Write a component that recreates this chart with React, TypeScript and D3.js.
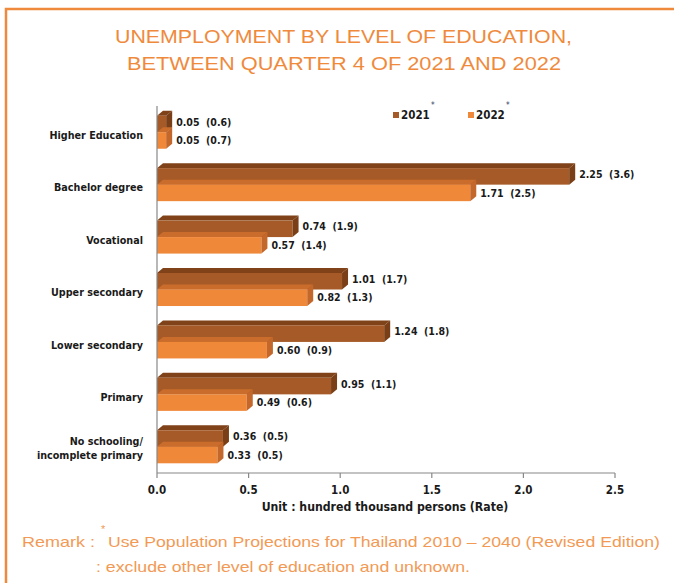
import React from "react";
import * as d3 from "d3";

const categories = [
  "Higher Education",
  "Bachelor degree",
  "Vocational",
  "Upper secondary",
  "Lower secondary",
  "Primary",
  "No schooling/\nincomplete primary",
];
const values2021 = [0.05, 2.25, 0.74, 1.01, 1.24, 0.95, 0.36];
const rates2021 = [0.6, 3.6, 1.9, 1.7, 1.8, 1.1, 0.5];
const values2022 = [0.05, 1.71, 0.57, 0.82, 0.6, 0.49, 0.33];
const rates2022 = [0.7, 2.5, 1.4, 1.3, 0.9, 0.6, 0.5];
const seriesNames = ["2021", "2022"];
const xTicks = [0, 0.5, 1.0, 1.5, 2.0, 2.5];

const W = 674;
const H = 583;
const orange = "#EF8A3D";
const remarkColor = "#F29A55";
const chartFont = "'DejaVu Sans Condensed', 'DejaVu Sans', sans-serif";
const titleFont = "'Liberation Sans', Arial, sans-serif";

const colors = {
  "2021": { front: "#A65A27", top: "#7F4219", side: "#7A3F16" },
  "2022": { front: "#F0883A", top: "#C96C2C", side: "#C4672A" },
};

export default function App() {
  const x = d3.scaleLinear().domain([0, 2.5]).range([157, 615]);
  const y = d3
    .scaleBand<string>()
    .domain(categories)
    .range([106, 473])
    .paddingInner(0.37)
    .paddingOuter(0.185);
  const ys = d3.scaleBand<string>().domain(seriesNames).range([0, y.bandwidth()]);
  const dx = 6;
  const dy = 5;

  const seriesData = [
    { name: "2021", values: values2021, rates: rates2021 },
    { name: "2022", values: values2022, rates: rates2022 },
  ];

  const bars: React.ReactNode[] = [];
  const labels: React.ReactNode[] = [];
  categories.forEach((cat, i) => {
    seriesData.forEach((s) => {
      const c = colors[s.name as "2021" | "2022"];
      const x0 = x(0);
      const x1 = x(s.values[i]);
      const y0 = (y(cat) as number) + (ys(s.name) as number);
      const h = ys.bandwidth();
      const top = `M${x0},${y0} L${x0 + dx},${y0 - dy} L${x1 + dx},${y0 - dy} L${x1},${y0} Z`;
      const side = `M${x1},${y0} L${x1 + dx},${y0 - dy} L${x1 + dx},${y0 + h - dy} L${x1},${y0 + h} Z`;
      bars.push(
        <g key={`${cat}-${s.name}`}>
          <path d={top} fill={c.top} />
          <rect x={x0} y={y0} width={x1 - x0} height={h} fill={c.front} />
          <path d={side} fill={c.side} />
        </g>
      );
      labels.push(
        <text
          key={`l-${cat}-${s.name}`}
          x={x1 + dx + 4}
          y={y0 + h / 2 - (s.name === "2021" ? 2 : 0)}
          dy="0.35em"
          fontSize={10.5}
          fontWeight="bold"
          fill="#1a1a1a"
          fontFamily={chartFont}
          style={{ whiteSpace: "pre" }}
        >
          {`${s.values[i].toFixed(2)}  (${s.rates[i].toFixed(1)})`}
        </text>
      );
    });
  });

  return (
    <svg
      width={W}
      height={H}
      style={{ position: "absolute", left: 0, top: 0, background: "#fff" }}
    >
      <rect x={6} y={9} width={W + 20} height={H + 20} fill="none" stroke={orange} strokeWidth={2.5} />

      <text x={115} y={43} textLength={457} lengthAdjust="spacingAndGlyphs" fontSize={18.5} fill={orange} fontFamily={titleFont}>
        UNEMPLOYMENT BY LEVEL OF EDUCATION,
      </text>
      <text x={127} y={70} textLength={434} lengthAdjust="spacingAndGlyphs" fontSize={18.5} fill={orange} fontFamily={titleFont}>
        BETWEEN QUARTER 4 OF 2021 AND 2022
      </text>

      {/* legend */}
      {seriesNames.map((n, i) => {
        const lx = 393 + i * 75;
        return (
          <g key={n}>
            <rect x={lx} y={112} width={6} height={6} fill={colors[n as "2021" | "2022"].front} />
            <text x={lx + 8} y={119} fontSize={11.5} fontWeight="bold" fill="#1a1a1a" fontFamily={chartFont}>
              {n}
            </text>
            <text x={lx + 38} y={108} fontSize={8} fill="#2c3e5c" fontFamily={chartFont}>
              *
            </text>
          </g>
        );
      })}

      {/* category labels */}
      {categories.map((cat) => {
        const cy = (y(cat) as number) + y.bandwidth() / 2;
        const lines = cat.split("\n");
        return (
          <text
            key={cat}
            x={143}
            y={cy + 3 - ((lines.length - 1) * 14) / 2 - (lines.length - 1) * 2}
            textAnchor="end"
            fontSize={10.7}
            fontWeight="bold"
            fill="#1a1a1a"
            fontFamily={chartFont}
          >
            {lines.map((ln, k) => (
              <tspan key={k} x={143} dy={k === 0 ? "0.35em" : 14.5}>
                {ln}
              </tspan>
            ))}
          </text>
        );
      })}

      {bars}
      {labels}

      {/* axes */}
      <line x1={x(0)} x2={x(0)} y1={106} y2={473} stroke="#888" strokeWidth={1.2} />
      <line x1={x(0)} x2={x(2.5)} y1={473} y2={473} stroke="#888" strokeWidth={1.2} />
      {xTicks.map((t) => (
        <g key={t}>
          <line x1={x(t)} x2={x(t)} y1={473} y2={478} stroke="#888" strokeWidth={1.2} />
          <text
            x={x(t)}
            y={490}
            dy="0.35em"
            textAnchor="middle"
            fontSize={11.5}
            fontWeight="bold"
            fill="#1a1a1a"
            fontFamily={chartFont}
          >
            {t.toFixed(1)}
          </text>
        </g>
      ))}
      <text x={385} y={507} dy="0.35em" textAnchor="middle" fontSize={12.2} fontWeight="bold" fill="#1a1a1a" fontFamily={chartFont}>
        Unit : hundred thousand persons (Rate)
      </text>

      {/* remark */}
      <text x={22} y={547} textLength={73} lengthAdjust="spacingAndGlyphs" fontSize={15} fill={remarkColor} fontFamily={titleFont}>
        Remark :
      </text>
      <text x={101} y={533} fontSize={11} fill={remarkColor} fontFamily={titleFont}>
        *
      </text>
      <text x={108} y={547} textLength={552} lengthAdjust="spacingAndGlyphs" fontSize={15} fill={remarkColor} fontFamily={titleFont}>
        Use Population Projections for Thailand 2010 – 2040 (Revised Edition)
      </text>
      <text x={96} y={572} textLength={374} lengthAdjust="spacingAndGlyphs" fontSize={15} fill={remarkColor} fontFamily={titleFont}>
        : exclude other level of education and unknown.
      </text>
    </svg>
  );
}
